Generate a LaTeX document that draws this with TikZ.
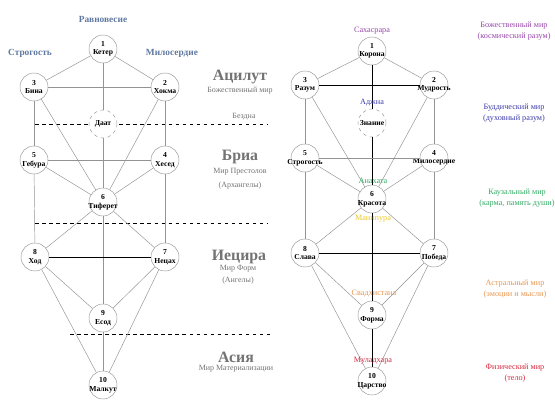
\documentclass[tikz,border=0pt]{standalone}
\usepackage{fontspec}
\setmainfont{Liberation Serif}
\definecolor{pillarblue}{RGB}{95,120,160}
\definecolor{worldgray}{RGB}{115,115,115}
\definecolor{sahasrara}{RGB}{150,70,170}
\definecolor{ajna}{RGB}{60,60,170}
\definecolor{anahata}{RGB}{50,170,100}
\definecolor{manipura}{RGB}{235,200,40}
\definecolor{svadhi}{RGB}{230,150,80}
\definecolor{mula}{RGB}{215,40,60}
\newcommand{\sef}[2]{\makebox[0pt]{\shortstack{#1\\#2}}}

\begin{document}
\begin{tikzpicture}[x=0.03cm,y=-0.03cm,
  sefira/.style={circle,draw=gray!80,fill=white,minimum size=0.84cm,inner sep=0pt,font=\fontsize{6.5}{7}\selectfont\bfseries},
  hidden/.style={sefira,dashed},
  link/.style={gray!85,line width=0.4pt},
  trunk/.style={black,line width=0.8pt},
  abyss/.style={dashed,line width=0.5pt},
  world/.style={worldgray,font=\fontsize{13.5}{14}\selectfont\bfseries},
  worldsub/.style={worldgray,font=\fontsize{6.8}{7.5}\selectfont},
  pillar/.style={pillarblue,font=\fontsize{8}{9}\selectfont\bfseries},
  chakra/.style={font=\fontsize{7}{8}\selectfont},
  plane/.style={font=\fontsize{7}{8.8}\selectfont,align=center}]
  \useasboundingbox (0,0) rectangle (555,416);
  % worlds of the left tree
  \draw[abyss] (35,124) -- (268,124);
  \draw[abyss] (35,223) -- (268,223);
  \draw[abyss] (70,334) -- (270,334);
  \node[pillar] (balance) at (103,19) {Равновесие};
  \node[pillar] (rigour) at (30,53) {Строгость};
  \node[pillar] (grace) at (172,53) {Милосердие};
  \node[world] (aziluth) at (240,77) {Ацилут};
  \node[worldsub] (aziluthsub) at (240,91) {Божественный мир};
  \node[worldsub] (abysslabel) at (244,117) {Бездна};
  \node[world] (briah) at (240,157) {Бриа};
  \node[worldsub] (briahsub) at (240,172) {Мир Престолов};
  \node[worldsub] (briahsubb) at (240,186) {(Архангелы)};
  \node[world] (yezirah) at (239,257) {Иецира};
  \node[worldsub] (yezirahsub) at (238,269) {Мир Форм};
  \node[worldsub] (yezirahsubb) at (238,281) {(Ангелы)};
  \node[world] (assiah) at (236,357) {Асия};
  \node[worldsub] (assiahsub) at (236,369) {Мир Материализации};
  % left tree
  \node[sefira] (keter) at (103,49) {\sef{1}{Кетер}};
  \node[sefira] (binah) at (34,87) {\sef{3}{Бина}};
  \node[sefira] (hokma) at (165,87) {\sef{2}{Хокма}};
  \node[hidden] (daat) at (103,124) {Даат};
  \node[sefira] (gebura) at (34,160) {\sef{5}{Гебура}};
  \node[sefira] (hesed) at (165,160) {\sef{4}{Хесед}};
  \node[sefira] (tiferet) at (103,202) {\sef{6}{Тиферет}};
  \node[sefira] (hod) at (35,257) {\sef{8}{Ход}};
  \node[sefira] (nezah) at (165,257) {\sef{7}{Нецах}};
  \node[sefira] (yesod) at (103,318) {\sef{9}{Есод}};
  \node[sefira] (malkut) at (103,385) {\sef{10}{Малкут}};
  \draw[link] (keter) -- (binah);
  \draw[link] (keter) -- (hokma);
  \draw[link] (binah) -- (hokma);
  \draw[link] (keter) -- (daat);
  \draw[link] (daat) -- (tiferet);
  \draw[link] (binah) -- (gebura);
  \draw[link] (hokma) -- (hesed);
  \draw[link] (binah) -- (tiferet);
  \draw[link] (hokma) -- (tiferet);
  \draw[link] (gebura) -- (hesed);
  \draw[link] (gebura) -- (tiferet);
  \draw[link] (hesed) -- (tiferet);
  \draw[link] (gebura) -- (hod);
  \draw[link] (hesed) -- (nezah);
  \draw[link] (tiferet) -- (hod);
  \draw[link] (tiferet) -- (nezah);
  \draw[link] (tiferet) -- (yesod);
  \draw[trunk] (hod) -- (nezah);
  \draw[link] (hod) -- (yesod);
  \draw[link] (nezah) -- (yesod);
  \draw[link] (hod) -- (malkut);
  \draw[link] (nezah) -- (malkut);
  \draw[link] (yesod) -- (malkut);
  % right tree
  \node[sefira] (crown) at (372,51) {\sef{1}{Корона}};
  \node[sefira] (reason) at (305,85) {\sef{3}{Разум}};
  \node[sefira] (wisdom) at (434,85) {\sef{2}{Мудрость}};
  \node[hidden] (knowledge) at (372,123) {Знание};
  \node[sefira] (severity) at (305,158) {\sef{5}{Строгость}};
  \node[sefira] (mercy) at (434,158) {\sef{4}{Милосердие}};
  \node[sefira] (beauty) at (372,199) {\sef{6}{Красота}};
  \node[sefira] (glory) at (305,253) {\sef{8}{Слава}};
  \node[sefira] (victory) at (434,253) {\sef{7}{Победа}};
  \node[sefira] (form) at (372,315) {\sef{9}{Форма}};
  \node[sefira] (kingdom) at (372,381) {\sef{10}{Царство}};
  \draw[link] (crown) -- (reason);
  \draw[link] (crown) -- (wisdom);
  \draw[trunk] (reason) -- (wisdom);
  \draw[trunk] (crown) -- (knowledge);
  \draw[trunk] (knowledge) -- (beauty);
  \draw[link] (reason) -- (severity);
  \draw[link] (wisdom) -- (mercy);
  \draw[link] (reason) -- (beauty);
  \draw[link] (wisdom) -- (beauty);
  \draw[link] (severity) -- (mercy);
  \draw[link] (severity) -- (beauty);
  \draw[link] (mercy) -- (beauty);
  \draw[link] (severity) -- (glory);
  \draw[link] (mercy) -- (victory);
  \draw[link] (beauty) -- (glory);
  \draw[link] (beauty) -- (victory);
  \draw[trunk] (beauty) -- (form);
  \draw[trunk] (glory) -- (victory);
  \draw[link] (glory) -- (form);
  \draw[link] (victory) -- (form);
  \draw[link] (glory) -- (kingdom);
  \draw[link] (victory) -- (kingdom);
  \draw[trunk] (form) -- (kingdom);
  % chakras
  \node[chakra,sahasrara] (c7) at (372,31) {Сахасрара};
  \node[chakra,ajna] (c6) at (372,103) {Аджна};
  \node[chakra,anahata] (c4) at (373,181) {Анахата};
  \node[chakra,manipura] (c3) at (373,219) {Манипура};
  \node[chakra,svadhi] (c2) at (374,294) {Свадхистана};
  \node[chakra,mula] (c1) at (373,361) {Муладхара};
  % planes
  \node[plane,sahasrara] (p7) at (514,31) {Божественный мир\\(космический разум)};
  \node[plane,ajna] (p6) at (514,113) {Буддический мир\\(духовный разум)};
  \node[plane,anahata] (p4) at (517,198) {Каузальный мир\\(карма, память души)};
  \node[plane,svadhi] (p2) at (515,289) {Астральный мир\\(эмоции и мысли)};
  \node[plane,mula] (p1) at (515,373) {Физический мир\\(тело)};
\end{tikzpicture}
\end{document}
